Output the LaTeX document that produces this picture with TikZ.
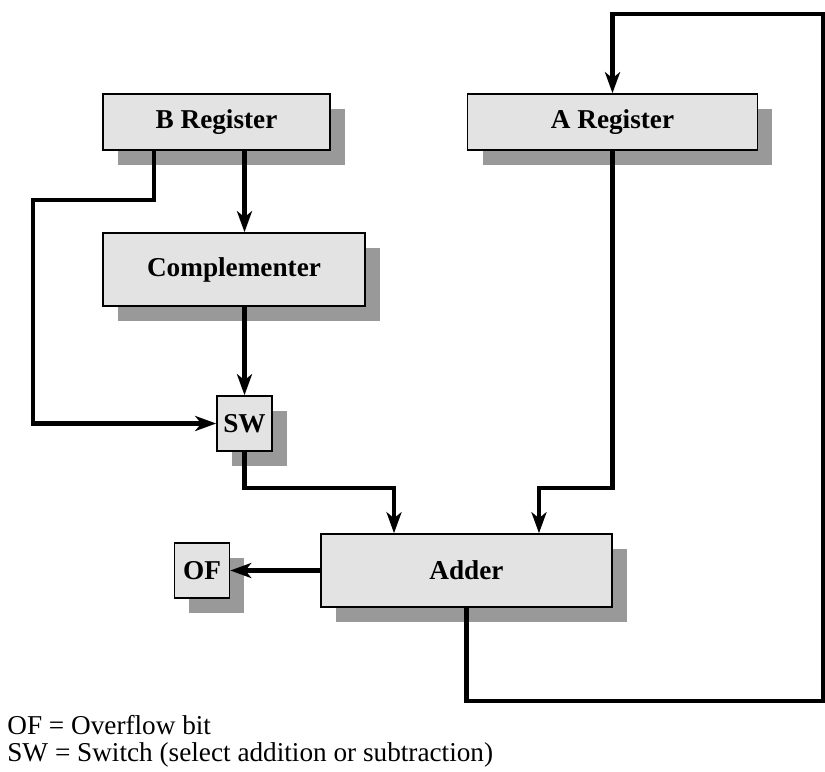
\documentclass[tikz,border=0pt]{standalone}
\usepackage{fontspec}
\setmainfont{Liberation Serif}
\usetikzlibrary{arrows.meta,shadows,positioning}

\tikzset{
  blk/.style={draw, line width=0.9pt, fill=black!11, inner sep=0pt,
    font=\fontsize{15.5}{18}\selectfont\bfseries,
    drop shadow={shadow xshift=0.3cm, shadow yshift=-0.3cm, fill=black!40, opacity=1}},
  wire/.style={line width=2.3pt},
  tip/.style={-{Stealth[length=0.42cm,width=0.3cm,inset=0.12cm]}},
  key/.style={anchor=base west, inner sep=0pt, font=\fontsize{15.5}{18}\selectfont}
}

\begin{document}
\begin{tikzpicture}[x=0.02cm, y=-0.02cm]
\useasboundingbox (0,0) rectangle (825,771);

\node[blk, minimum width=4.54cm, minimum height=1.12cm]	(breg) at (216.5,122)		{B Register};
\node[blk, minimum width=5.8cm, minimum height=1.12cm]	(areg)[right=2.72cm of breg]	{A Register};
\node[blk, minimum width=5.24cm, minimum height=1.46cm]	(comp) at (234,269.5)		{Complementer};
\node[blk, minimum size=1.1cm]							(sw) at (244.5,423.5)		{SW};
\node[blk, minimum width=5.82cm, minimum height=1.46cm]	(adder) at (466.5,570.5)	{Adder};
\node[blk, minimum size=1.1cm]							(of)[left=1.8cm of adder]	{OF};

\coordinate (lbend) at (33,200);
\coordinate (rtop) at (823,14);
\coordinate (rbot) at (823,701);

% B side
\draw[wire, tip]	(breg.south -| sw.north) -- (comp.north -| sw.north);
\draw[wire, tip]	(comp.south -| sw.north) -- (sw.north);
\draw[wire, tip]	([xshift=-1.25cm]breg.south) |- (lbend) |- (sw.west);
\draw[wire, tip]	(sw.south) -- ++(0,36) -| ([xshift=-1.45cm]adder.north);

% A side
\draw[wire, tip]	(areg.south) -- ++(0,337) -| ([xshift=1.45cm]adder.north);
\draw[wire, tip]	(adder.south) |- (rbot) -- (rtop) -| (areg.north);

% overflow
\draw[line width=3.4pt, tip]	(adder.west) -- (adder.west -| of.east);

\node[key]	(k1) at (7,734)	{OF = Overflow bit};
\node[key]	(k2) at (7,761)	{SW = Switch (select addition or subtraction)};
\end{tikzpicture}
\end{document}
